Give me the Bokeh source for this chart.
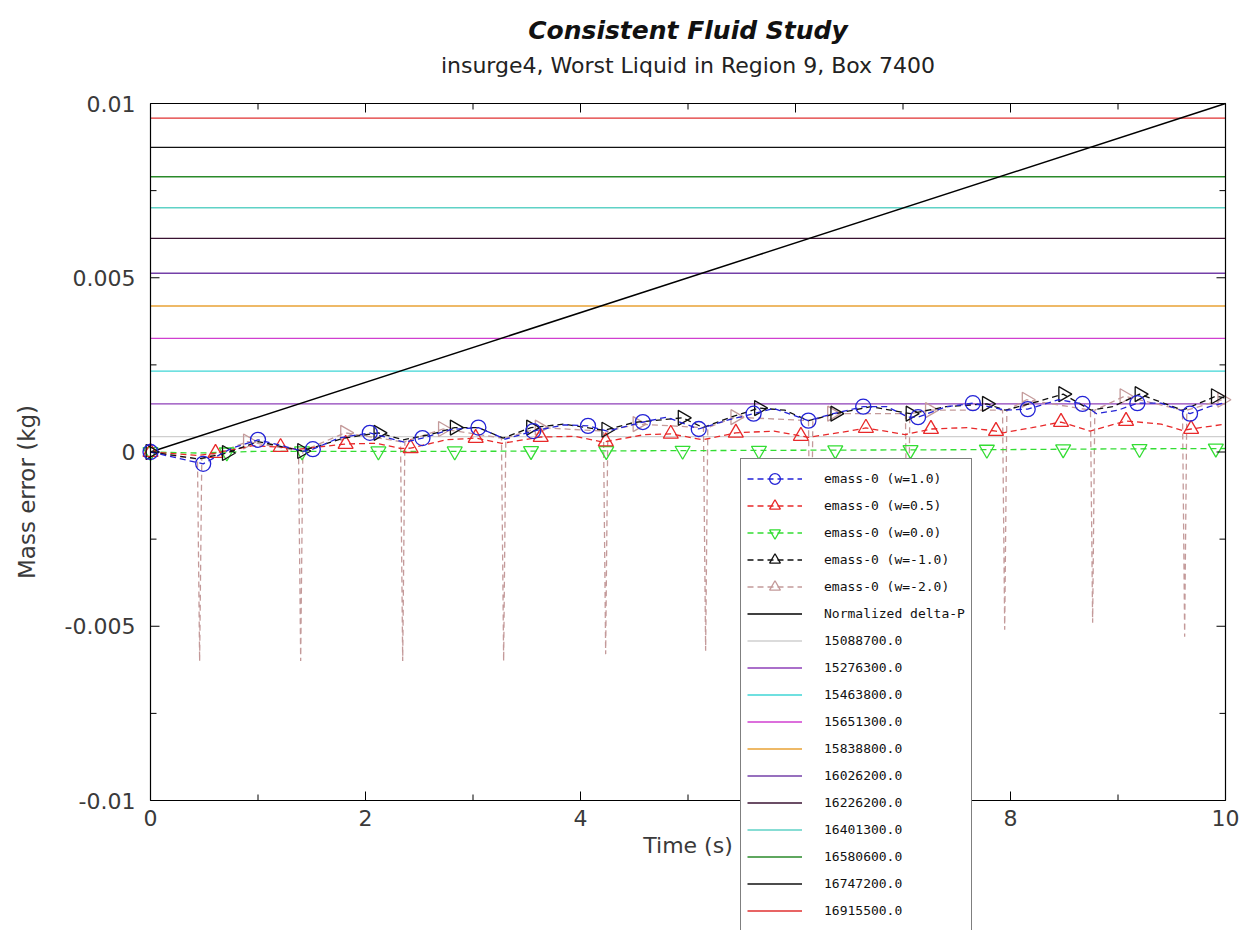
import math

from bokeh.plotting import figure
from bokeh.models import Range1d, Legend, LegendItem
from bokeh.core.properties import value
from bokeh.embed import file_html
from bokeh.resources import INLINE

# ---- axes -------------------------------------------------------------
x_ticks = [0, 2, 4, 6, 8, 10]
x_minor_ticks = [1, 3, 5, 7, 9]
x_tick_labels = ["0", "2", "4", "6", "8", "10"]
y_ticks = [-0.01, -0.005, 0, 0.005, 0.01]
y_minor_ticks = [-0.0075, -0.0025, 0.0025, 0.0075]
y_tick_labels = ["-0.01", "-0.005", "0", "0.005", "0.01"]
time_span = [0.0, 10.0]

# ---- emass-0 (w=1.0) ----------------------------------------------------
w10_t = [0.00, 0.49, 0.75, 1.00, 1.20, 1.42, 1.51, 1.75, 2.04, 2.36, 2.53, 2.80,
         3.05, 3.30, 3.56, 3.85, 4.07, 4.25, 4.58, 4.80, 5.10, 5.35, 5.61, 5.80,
         6.12, 6.35, 6.63, 6.85, 7.05, 7.14, 7.40, 7.65, 7.95, 8.16, 8.45, 8.67,
         8.80, 9.00, 9.18, 9.40, 9.67, 9.85, 10.0]
w10_v = [0.0, -0.00034, 0.0001, 0.00035, 0.0002, 0.00002, 0.00008, 0.0004, 0.00055,
         0.00028, 0.0004, 0.00065, 0.0007, 0.00037, 0.0006, 0.00078, 0.00075, 0.0006,
         0.00086, 0.001, 0.00066, 0.0009, 0.0011, 0.00125, 0.0009, 0.0011, 0.0013,
         0.0013, 0.001, 0.001, 0.0013, 0.0014, 0.0012, 0.00123, 0.0015, 0.00138,
         0.0011, 0.0012, 0.0014, 0.0014, 0.0011, 0.0013, 0.00142]
w10_mark_t = [0.00, 0.49, 1.00, 1.51, 2.04, 2.53, 3.05, 3.56, 4.07, 4.58, 5.10,
              5.61, 6.12, 6.63, 7.14, 7.65, 8.16, 8.67, 9.18, 9.67]
w10_mark_v = [0.0, -0.00034, 0.00035, 0.00008, 0.00055, 0.0004, 0.0007, 0.0006,
              0.00075, 0.00086, 0.00066, 0.0011, 0.0009, 0.0013, 0.001, 0.0014,
              0.00123, 0.00138, 0.0014, 0.0011]

# ---- emass-0 (w=0.5) ----------------------------------------------------
w05_t = [0.0, 0.44, 0.605, 0.95, 1.21, 1.38, 1.815, 2.10, 2.33, 2.42, 2.75, 3.025,
         3.27, 3.63, 3.95, 4.21, 4.235, 4.60, 4.84, 5.14, 5.445, 5.80, 6.05, 6.12,
         6.50, 6.655, 7.02, 7.26, 7.60, 7.865, 7.93, 8.20, 8.47, 8.74, 9.075, 9.40,
         9.60, 9.68, 10.0]
w05_v = [0.0, -0.0001, -0.00003, 0.00018, 0.00014, 0.00008, 0.00023, 0.00025, 0.0001,
         0.00011, 0.00035, 0.0004, 0.00025, 0.00043, 0.00045, 0.00028, 0.0003, 0.0005,
         0.00052, 0.00035, 0.00055, 0.0006, 0.00046, 0.00042, 0.0006, 0.00069, 0.0005,
         0.00066, 0.0007, 0.0006, 0.00055, 0.0007, 0.00086, 0.0006, 0.00089, 0.0008,
         0.00062, 0.00066, 0.0008]
w05_mark_t = [0.0, 0.605, 1.21, 1.815, 2.42, 3.025, 3.63, 4.235, 4.84, 5.445, 6.05,
              6.655, 7.26, 7.865, 8.47, 9.075, 9.68]
w05_mark_v = [0.0, -0.00003, 0.00014, 0.00023, 0.00011, 0.0004, 0.00043, 0.0003,
              0.00052, 0.00055, 0.00046, 0.00069, 0.00066, 0.0006, 0.00086, 0.00089,
              0.00066]

# ---- emass-0 (w=0.0) ----------------------------------------------------
w00_t = [0.0, 0.44, 1.0, 2.0, 3.0, 4.0, 5.0, 6.0, 7.0, 8.0, 9.0, 10.0]
w00_v = [0.0, -0.00003, 0.00002, 0.00002, 0.00002, 0.00003, 0.00004, 0.00005,
         0.00006, 0.00007, 0.00009, 0.0001]
w00_mark_t = [0.0, 0.71, 1.41, 2.12, 2.83, 3.54, 4.24, 4.95, 5.66, 6.37, 7.07,
              7.78, 8.49, 9.20, 9.91]
w00_mark_v = [0.0, -0.00001, 0.00002, 0.00002, 0.00002, 0.00003, 0.00003, 0.00004,
              0.00004, 0.00005, 0.00006, 0.00007, 0.00008, 0.00009, 0.0001]

# ---- emass-0 (w=-1.0) ---------------------------------------------------
wm1_t = [0.00, 0.45, 0.71, 1.00, 1.41, 1.80, 2.12, 2.35, 2.60, 2.83, 3.05, 3.28,
         3.54, 3.85, 4.22, 4.50, 4.95, 5.14, 5.40, 5.66, 5.90, 6.12, 6.37, 6.70,
         7.07, 7.40, 7.78, 7.95, 8.20, 8.49, 8.75, 8.95, 9.20, 9.60, 9.91, 10.0]
wm1_v = [0.0, -0.0002, -0.00003, 0.0003, 0.00003, 0.0004, 0.00055, 0.00035, 0.0005,
         0.0007, 0.0007, 0.0004, 0.0007, 0.0008, 0.00062, 0.00085, 0.00098, 0.0007,
         0.001, 0.00126, 0.0012, 0.0009, 0.0011, 0.0013, 0.0011, 0.0013, 0.00138,
         0.0012, 0.0014, 0.00166, 0.0012, 0.0013, 0.00166, 0.0012, 0.0016, 0.00155]
wm1_mark_t = [0.0, 0.71, 1.41, 2.12, 2.83, 3.54, 4.24, 4.95, 5.66, 6.37, 7.07,
              7.78, 8.49, 9.20, 9.91]
wm1_mark_v = [0.0, -0.00003, 0.00003, 0.00055, 0.0007, 0.0007, 0.00064, 0.00098,
              0.00126, 0.0011, 0.0011, 0.00138, 0.00166, 0.00166, 0.0016]

# ---- emass-0 (w=-2.0), with its sharp negative excursions ---------------
wm2_t = [0.0, 0.30, 0.437, 0.457, 0.477, 0.906, 1.377, 1.397, 1.417, 1.81, 2.326,
         2.346, 2.366, 2.72, 3.265, 3.285, 3.305, 3.62, 4.214, 4.234, 4.254, 4.53,
         5.144, 5.164, 5.184, 5.44, 6.121, 6.141, 6.161, 6.34, 7.023, 7.043, 7.063,
         7.25, 7.926, 7.946, 7.966, 8.15, 8.744, 8.764, 8.784, 9.06, 9.60, 9.62,
         9.64, 9.97, 10.0]
wm2_v = [0.0, -0.00015, -0.0002, -0.0060, -0.0002, 0.0003, 0.00003, -0.0060, 0.00003,
         0.00055, 0.0003, -0.0060, 0.0003, 0.00066, 0.0004, -0.0060, 0.0004, 0.0007,
         0.0006, -0.0058, 0.0006, 0.0008, 0.0007, -0.0057, 0.0007, 0.001, 0.0009,
         -0.0055, 0.0009, 0.0011, 0.0011, -0.0052, 0.0011, 0.0012, 0.0012, -0.0051,
         0.0012, 0.0015, 0.0012, -0.0049, 0.0012, 0.0016, 0.0012, -0.0053, 0.0012,
         0.0015, 0.0015]
wm2_mark_t = [0.0, 0.906, 1.81, 2.72, 3.62, 4.53, 5.44, 6.34, 7.25, 8.15, 9.06, 9.97]
wm2_mark_v = [0.0, 0.0003, 0.00055, 0.00066, 0.0007, 0.0008, 0.001, 0.0011, 0.0012,
              0.0015, 0.0016, 0.0015]

# ---- normalized pressure difference -------------------------------------
dp_t = [0.0, 10.0]
dp_v = [0.0, 0.01]

# ---- pressure reference levels ------------------------------------------
level_labels = ["15088700.0", "15276300.0", "15463800.0", "15651300.0",
                "15838800.0", "16026200.0", "16226200.0", "16401300.0",
                "16580600.0", "16747200.0", "16915500.0"]
level_values = [0.00044, 0.00138, 0.00232, 0.00326, 0.00419, 0.00513,
                0.00613, 0.00701, 0.0079, 0.00874, 0.00958]
level_colors = ["#cfcfcf", "#8e3fb8", "#3fd6d6", "#d03fd0", "#e8a234",
                "#7440a8", "#3a1232", "#5fd2c6", "#2a8a2a", "#111111", "#e03030"]

# ---- layout -----------------------------------------------------------
W, H = 1248, 930
BOX_TOP = 103             # screen position of the top of the plotting box
BOX_LEFT, BOX_RIGHT = 150, 1225
BOX_HEIGHT = 697          # screen height between the outer y ticks
TICK_FONT = "DejaVu Sans"
TEXT_COLOR = "#3a3a3a"
MAJOR_PX, MINOR_PX = 9, 6

x_lo, x_hi = x_ticks[0], x_ticks[-1]
y_lo, y_hi = y_ticks[0], y_ticks[-1]
x_per_px = (x_hi - x_lo) / (BOX_RIGHT - BOX_LEFT)
y_per_px = (y_hi - y_lo) / BOX_HEIGHT
x_mid = (x_lo + x_hi) / 2

# The frame fills the whole page; the box, its ticks and its texts are drawn
# inside it so that the legend can hang past the bottom edge of the box.
p = figure(width=W, height=H, title=None,
           x_range=Range1d(x_lo - BOX_LEFT * x_per_px, x_hi + (W - BOX_RIGHT) * x_per_px),
           y_range=Range1d(y_lo - (H - BOX_TOP - BOX_HEIGHT) * y_per_px,
                           y_hi + BOX_TOP * y_per_px),
           x_axis_location=None, y_axis_location=None,
           output_backend="svg", toolbar_location=None,
           min_border=0)
p.background_fill_color = "white"
p.border_fill_color = "white"
p.outline_line_color = None
p.xgrid.visible = False
p.ygrid.visible = False

# pressure levels
level_items = []
for lab, val, col in zip(level_labels, level_values, level_colors):
    r = p.line(time_span, [val, val], line_color=col, line_width=1.4)
    level_items.append(LegendItem(label=lab, renderers=[r]))

dp_r = p.line(dp_t, dp_v, line_color="black", line_width=1.5)

DASH = "6 4"


def series(t, v, mt, mv, color, marker, angle=0.0):
    ln = p.line(t, v, line_color=color, line_width=1.3, line_dash=DASH)
    mk = p.scatter(mt, mv, marker=marker, size=15, angle=angle,
                   line_color=color, line_width=1.3, fill_alpha=0)
    return [ln, mk]


right = -math.pi / 2
r_m2 = series(wm2_t, wm2_v, wm2_mark_t, wm2_mark_v, "#c49a9a", "triangle", right)
r_00 = series(w00_t, w00_v, w00_mark_t, w00_mark_v, "#33dd33", "inverted_triangle")
r_05 = series(w05_t, w05_v, w05_mark_t, w05_mark_v, "#e8292a", "triangle")
r_m1 = series(wm1_t, wm1_v, wm1_mark_t, wm1_mark_v, "#111111", "triangle", right)
r_10 = series(w10_t, w10_v, w10_mark_t, w10_mark_v, "#2323d6", "circle")

# ---- box edges ---------------------------------------------------------
p.segment(x0=[x_lo, x_hi, x_lo, x_lo], y0=[y_lo, y_lo, y_lo, y_hi],
          x1=[x_lo, x_hi, x_hi, x_hi], y1=[y_hi, y_hi, y_lo, y_hi],
          line_color="black", line_width=1.2)

n_x, n_xm = len(x_ticks), len(x_minor_ticks)
n_y, n_ym = len(y_ticks), len(y_minor_ticks)
dy_major, dy_minor = MAJOR_PX * y_per_px, MINOR_PX * y_per_px
dx_major, dx_minor = MAJOR_PX * x_per_px, MINOR_PX * x_per_px

# bottom and top ticks, pointing into the box
p.segment(x0=x_ticks * 2, y0=[y_lo] * n_x + [y_hi] * n_x, x1=x_ticks * 2,
          y1=[y_lo + dy_major] * n_x + [y_hi - dy_major] * n_x, line_color="black")
p.segment(x0=x_minor_ticks * 2, y0=[y_lo] * n_xm + [y_hi] * n_xm, x1=x_minor_ticks * 2,
          y1=[y_lo + dy_minor] * n_xm + [y_hi - dy_minor] * n_xm, line_color="black")
# left and right ticks
p.segment(x0=[x_lo] * n_y + [x_hi] * n_y, y0=y_ticks * 2,
          x1=[x_lo + dx_major] * n_y + [x_hi - dx_major] * n_y, y1=y_ticks * 2,
          line_color="black")
p.segment(x0=[x_lo] * n_ym + [x_hi] * n_ym, y0=y_minor_ticks * 2,
          x1=[x_lo + dx_minor] * n_ym + [x_hi - dx_minor] * n_ym, y1=y_minor_ticks * 2,
          line_color="black")

# tick labels and axis titles
p.text(x=x_ticks, y=[y_lo] * n_x, text=x_tick_labels,
       text_font=value(TICK_FONT), text_font_size="22px", text_color=TEXT_COLOR,
       text_align="center", text_baseline="top", y_offset=9)
p.text(x=[x_lo] * n_y, y=y_ticks, text=y_tick_labels,
       text_font=value(TICK_FONT), text_font_size="22px", text_color=TEXT_COLOR,
       text_align="right", text_baseline="middle", x_offset=-15)
p.text(x=[x_mid], y=[y_lo], text=["Time (s)"],
       text_font=value(TICK_FONT), text_font_size="22px", text_color=TEXT_COLOR,
       text_align="center", text_baseline="top", y_offset=32)
p.text(x=[x_lo], y=[(y_lo + y_hi) / 2], text=["Mass error (kg)"], angle=math.pi / 2,
       text_font=value(TICK_FONT), text_font_size="23px", text_color=TEXT_COLOR,
       text_align="center", text_baseline="middle", x_offset=-124, y_offset=40)

# titles above the box
p.text(x=[x_mid], y=[y_hi], text=["Consistent Fluid Study"],
       text_font=value("DejaVu Sans"), text_font_size="25px",
       text_font_style="bold italic", text_color="#111111",
       text_align="center", text_baseline="middle", y_offset=-73)
p.text(x=[x_mid], y=[y_hi], text=["insurge4, Worst Liquid in Region 9, Box 7400"],
       text_font=value("DejaVu Sans"), text_font_size="22px", text_color="#222222",
       text_align="center", text_baseline="middle", y_offset=-38)

items = [
    LegendItem(label="emass-0 (w=1.0)", renderers=r_10),
    LegendItem(label="emass-0 (w=0.5)", renderers=r_05),
    LegendItem(label="emass-0 (w=0.0)", renderers=r_00),
    LegendItem(label="emass-0 (w=-1.0)", renderers=r_m1),
    LegendItem(label="emass-0 (w=-2.0)", renderers=r_m2),
    LegendItem(label="Normalized delta-P", renderers=[dp_r]),
] + level_items

legend = Legend(items=items, location=(740, -1), orientation="vertical",
                padding=6, spacing=0, margin=0,
                glyph_height=27, glyph_width=55, label_height=27, label_standoff=22,
                label_text_font="DejaVu Sans Mono", label_text_font_size="13px",
                label_text_color="#111111",
                border_line_color="black", border_line_width=1.5,
                background_fill_color="white", background_fill_alpha=1.0)
p.add_layout(legend)

open("out.html", "w").write(file_html(p, INLINE))
